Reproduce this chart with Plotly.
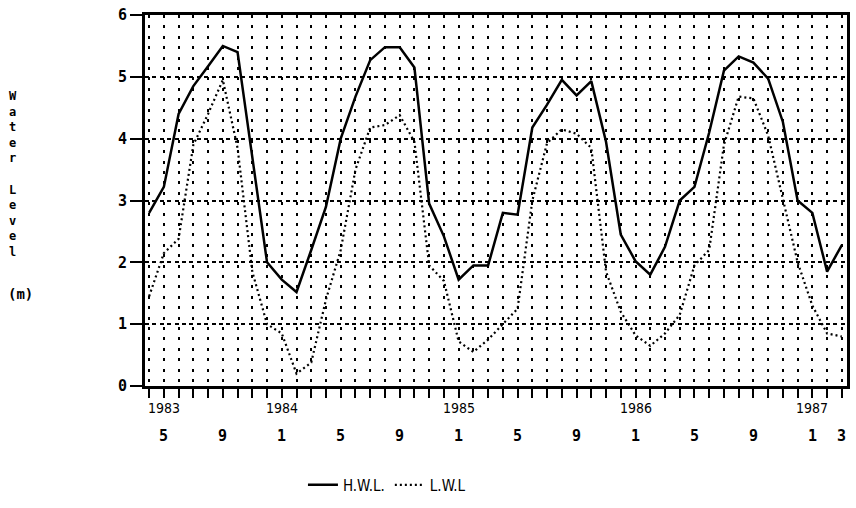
import plotly.graph_objects as go

# month index: 0 = May 1983 ... 46 = Mar 1987 (-1 = Apr 1983)
months = list(range(-1, 47))

hwl = [2.8, 3.22, 4.4, 4.85, 5.17, 5.5, 5.4, 3.7, 2.0, 1.72, 1.52, 2.2, 2.9,
       4.0, 4.68, 5.27, 5.48, 5.48, 5.15, 2.95, 2.42, 1.72, 1.95, 1.95, 2.8,
       2.77, 4.18, 4.55, 4.95, 4.7, 4.93, 3.95, 2.45, 2.02, 1.8, 2.25, 3.0,
       3.22, 4.1, 5.1, 5.33, 5.23, 4.97, 4.27, 3.0, 2.8, 1.85, 2.28]

lwl = [1.45, 2.15, 2.38, 3.9, 4.4, 4.95, 3.85, 1.85, 1.0, 0.85, 0.2, 0.38, 1.4,
       2.2, 3.5, 4.18, 4.22, 4.38, 3.95, 1.95, 1.7, 0.72, 0.55, 0.75, 1.0,
       1.25, 3.0, 3.93, 4.15, 4.08, 3.85, 1.85, 1.2, 0.82, 0.65, 0.85, 1.15,
       1.95, 2.2, 3.9, 4.68, 4.65, 4.05, 3.0, 2.0, 1.3, 0.85, 0.8]

month_tick_pos = [0, 4, 8, 12, 16, 20, 24, 28, 32, 36, 40, 44, 46]
month_tick_txt = ['5', '9', '1', '5', '9', '1', '5', '9', '1', '5', '9', '1', '3']
year_tick_pos = [0, 8, 20, 32, 44]
year_tick_txt = ['1983', '1984', '1985', '1986', '1987']
y_ticks = [0, 1, 2, 3, 4, 5, 6]

FONT = "DejaVu Sans Mono"

fig = go.Figure()
fig.add_trace(go.Scatter(x=months, y=hwl, mode='lines', name='H.W.L.',
                         line=dict(color='black', width=2.5)))
fig.add_trace(go.Scatter(x=months, y=lwl, mode='lines', name='L.W.L',
                         line=dict(color='black', width=2.2, dash='2px,3px')))

annotations = []
for p, t in zip(month_tick_pos, month_tick_txt):
    annotations.append(dict(x=p, y=-0.136, xref='x', yref='paper', text=t,
                            showarrow=False, xanchor='center', yanchor='middle',
                            font=dict(family=FONT, size=15, color='black', weight='bold')))
for p, t in zip(year_tick_pos, year_tick_txt):
    annotations.append(dict(x=p, y=-0.058, xref='x', yref='paper', text=t,
                            showarrow=False, xanchor='center', yanchor='middle',
                            font=dict(family="Liberation Sans Narrow, DejaVu Sans Condensed", size=14, color='black')))
annotations.append(dict(x=-0.1887, y=0.571, xref='paper', yref='paper',
                        text='W<br>a<br>t<br>e<br>r<br> <br>L<br>e<br>v<br>e<br>l',
                        showarrow=False, xanchor='center', yanchor='middle',
                        font=dict(family=FONT, size=12, color='black', weight='bold')))
annotations.append(dict(x=-0.178, y=0.248, xref='paper', yref='paper', text='(m)',
                        showarrow=False, xanchor='center', yanchor='middle',
                        font=dict(family=FONT, size=14, color='black', weight='bold')))

fig.update_layout(
    width=856, height=508,
    margin=dict(l=145, r=6, t=14, b=119),
    paper_bgcolor='white', plot_bgcolor='white',
    showlegend=True,
    legend=dict(orientation='h', x=0.225, y=-0.267, xanchor='left', yanchor='middle',
                font=dict(family="Liberation Sans Narrow, DejaVu Sans Condensed", size=15, color='black'),
                itemwidth=30, bgcolor='rgba(0,0,0,0)'),
    annotations=annotations,
    xaxis=dict(range=[-1.28, 46.35], tickvals=months, ticktext=['' for _ in months],
               ticks='outside', ticklen=9, tickwidth=2, tickcolor='black',
               showgrid=True, gridcolor='black', gridwidth=2, griddash='3px,7.4px',
               showline=True, linecolor='black', linewidth=3, mirror=True,
               zeroline=False),
    yaxis=dict(range=[0, 6], tickvals=y_ticks, ticks='outside', ticklen=12,
               tickwidth=2, tickcolor='black',
               tickfont=dict(family=FONT, size=15, color='black', weight='bold'),
               showgrid=True, gridcolor='black', gridwidth=1.5, griddash='4px,3.4px',
               showline=True, linecolor='black', linewidth=3, mirror=True,
               zeroline=False),
)

fig.write_html("out.html")
